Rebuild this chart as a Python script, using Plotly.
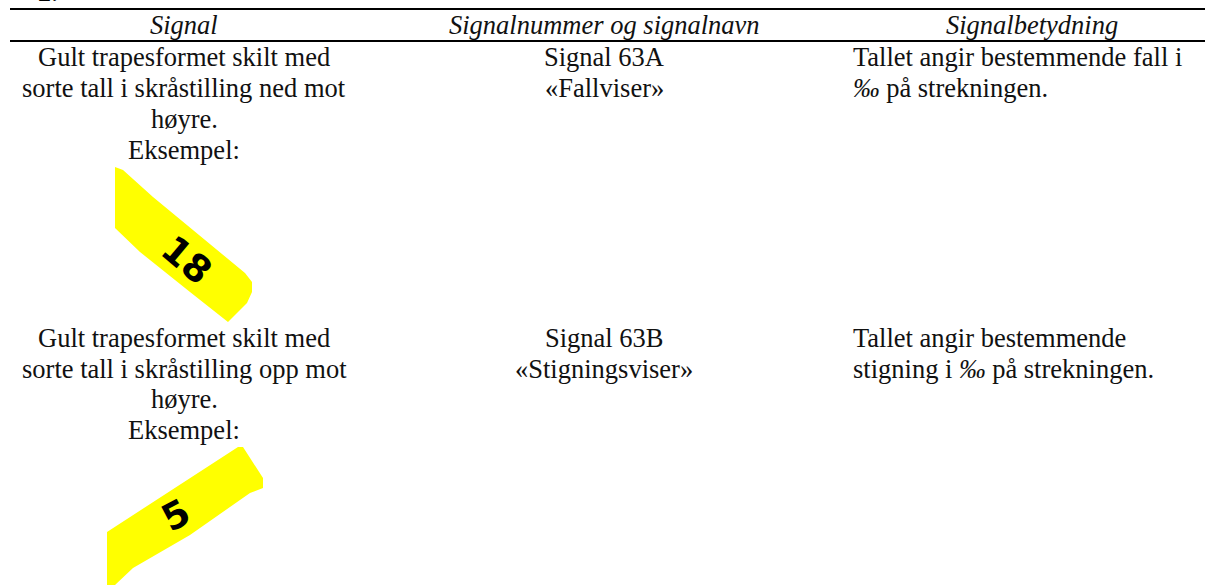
import plotly.graph_objects as go

headers = ["Signal", "Signalnummer og signalnavn", "Signalbetydning"]
col1_a = ["Gult trapesformet skilt med", "sorte tall i skråstilling ned mot", "høyre.", "Eksempel:"]
col1_b = ["Gult trapesformet skilt med", "sorte tall i skråstilling opp mot", "høyre.", "Eksempel:"]
col2_a = ["Signal 63A", "«Fallviser»"]
col2_b = ["Signal 63B", "«Stigningsviser»"]
col3_a = ["Tallet angir bestemmende fall i", "<i>‰</i> på strekningen."]
col3_b = ["Tallet angir bestemmende", "stigning i <i>‰</i> på strekningen."]

sign_a_x = [115, 123, 153, 197, 245, 252, 252, 247, 228, 190, 140, 115]
sign_a_y = [167, 170, 197, 233, 273, 282, 292, 303, 322, 292, 252, 228]
sign_b_x = [107, 133, 187, 238, 243, 263, 263, 250, 190, 133, 115, 107]
sign_b_y = [532, 515, 480, 447, 447, 478, 488, 493, 535, 568, 585, 585]

FONT = "Liberation Serif"
SIZE = 26.5
fig = go.Figure()
for xs, ys in ((sign_a_x, sign_a_y), (sign_b_x, sign_b_y)):
    fig.add_trace(go.Scatter(x=xs, y=ys, mode="lines", fill="toself", fillcolor="#ffff00",
                             line=dict(color="#ffff00", width=0), hoverinfo="skip", showlegend=False))

def text(x, y, s, anchor="center", italic=False):
    fig.add_annotation(x=x, y=y, text=f"<i>{s}</i>" if italic else s, showarrow=False,
                       xref="x", yref="y", xanchor=anchor, yanchor="middle",
                       font=dict(family=FONT, size=SIZE, color="#111"))

for x, s in zip([184, 604, 1032], headers):
    text(x, 25, s, italic=True)
for i, s in enumerate(col1_a):
    text(184, 57 + 31 * i, s)
for i, s in enumerate(col1_b):
    text(184, 338 + 30.7 * i, s)
for i, s in enumerate(col2_a):
    text(604, 57 + 31 * i, s)
for i, s in enumerate(col2_b):
    text(604, 338 + 31 * i, s)
for i, s in enumerate(col3_a):
    text(851, 57 + 31 * i, s, "left")
for i, s in enumerate(col3_b):
    text(851, 338 + 31 * i, s, "left")

fig.add_annotation(x=187, y=260, text="<b>18</b>", textangle=40, showarrow=False,
                   font=dict(family="DejaVu Sans", size=37, color="#000"))
fig.add_annotation(x=176, y=515, text="<b>5</b>", textangle=-28, showarrow=False,
                   font=dict(family="DejaVu Sans", size=37, color="#000"))
fig.add_annotation(x=48, y=1.0, xref="x", yref="paper", yanchor="bottom", text="2.", showarrow=False,
                   yshift=-9, font=dict(family=FONT, size=SIZE, color="#000"))

for y in (9, 41):
    fig.add_shape(type="line", x0=10, x1=1205, y0=y, y1=y, line=dict(color="#000", width=2))

fig.update_layout(width=1205, height=585, margin=dict(l=0, r=0, t=0, b=0),
                  paper_bgcolor="#fff", plot_bgcolor="#fff", showlegend=False,
                  xaxis=dict(range=[0, 1205], visible=False, fixedrange=True),
                  yaxis=dict(range=[585, 0], visible=False, fixedrange=True))
fig.write_html("out.html", config={"displayModeBar": False},
               post_script="document.body.style.margin='0';document.documentElement.style.overflow='hidden';")
